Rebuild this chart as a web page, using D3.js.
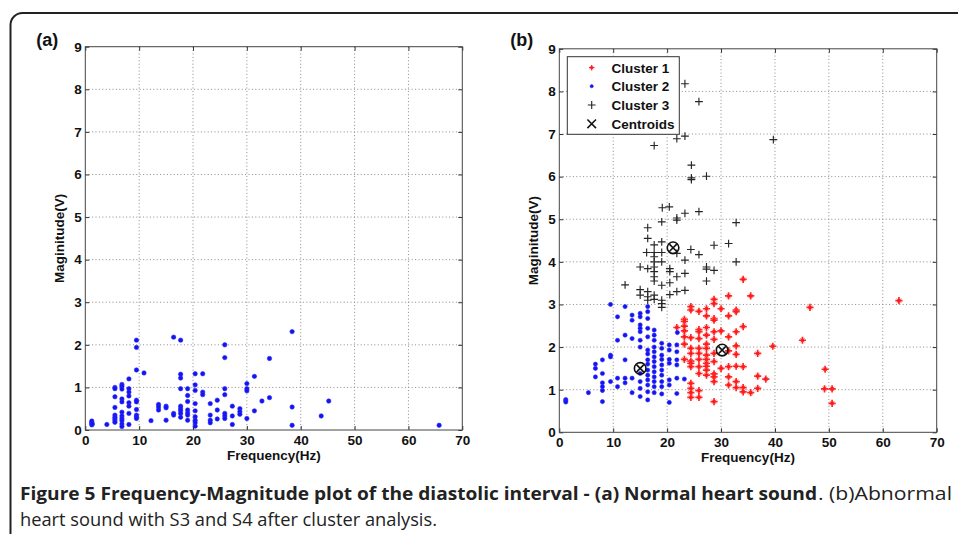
<!DOCTYPE html>
<html>
<head>
<meta charset="utf-8">
<script src="https://cdn.jsdelivr.net/npm/d3@7/dist/d3.min.js"></script>
<style>
  html, body { margin: 0; padding: 0; background: #fff; }
  svg { display: block; }
</style>
</head>
<body>
<script>
// ---------------- DATA ----------------
const xTicks = [0, 10, 20, 30, 40, 50, 60, 70];
const yTicks = [0, 1, 2, 3, 4, 5, 6, 7, 8, 9];
const xLabel = "Frequency(Hz)";
const yLabel = "Maginitude(V)";
const legendLabels = ["Cluster 1", "Cluster 2", "Cluster 3", "Centroids"];
const captionBold = "Figure 5 Frequency-Magnitude plot of the diastolic interval - (a) Normal heart sound";
const captionRest = ". (b)Abnormal";
const captionLine2 = "heart sound with S3 and S4 after cluster analysis.";

// Panel (a): normal heart sound [frequency, magnitude]
const normalPts = [
  [1.2,0.12],[1.2,0.15],[1.2,0.18],[1.2,0.21],[1.3,0.14],
  [4.0,0.13],
  [5.5,1.0],[5.5,0.97],[5.5,0.78],[5.5,0.53],[5.5,0.35],[5.5,0.3],[5.5,0.26],[5.5,0.22],[5.5,0.18],
  [6.8,1.07],[6.8,1.03],[6.8,0.96],[6.8,0.73],[6.8,0.66],[6.8,0.42],[6.8,0.33],[6.8,0.27],[6.8,0.22],[6.8,0.14],[6.8,0.08],
  [8.1,1.2],[8.1,0.97],[8.1,0.89],[8.1,0.8],[8.1,0.64],[8.1,0.56],[8.1,0.39],[8.1,0.13],
  [9.5,2.11],[9.5,1.94],[9.5,1.41],[9.5,0.7],[9.5,0.66],[9.5,0.48],[9.5,0.35],[9.5,0.31],[9.5,0.27],
  [10.9,1.34],[12.2,0.22],
  [13.6,0.6],[13.6,0.54],[13.6,0.47],
  [15.0,0.56],[15.0,0.52],[15.0,0.23],
  [16.4,2.18],[16.4,0.39],[16.4,0.35],
  [17.7,2.11],[17.7,1.31],[17.7,1.22],[17.7,0.97],[17.7,0.56],[17.7,0.5],[17.7,0.45],[17.7,0.39],[17.7,0.3],
  [19.0,0.97],[19.0,0.81],[19.0,0.67],[19.0,0.47],[19.0,0.4],[19.0,0.35],[19.0,0.23],
  [20.4,1.32],[20.4,1.06],[20.4,0.93],[20.4,0.62],[20.4,0.45],[20.4,0.31],[20.4,0.23],[20.4,0.17],[20.4,0.09],
  [21.8,1.32],[21.8,0.89],[21.8,0.83],
  [23.2,0.62],[23.2,0.35],[23.2,0.23],[23.2,0.17],
  [24.5,0.7],[24.5,0.47],[24.5,0.26],
  [25.9,2.0],[25.9,1.7],[25.9,0.97],[25.9,0.83],[25.9,0.39],[25.9,0.33],[25.9,0.27],
  [27.3,0.56],[27.3,0.33],[27.3,0.13],
  [28.7,0.5],[28.7,0.43],[28.7,0.37],
  [30.0,1.09],[30.0,0.97],[30.0,0.92],[30.0,0.27],
  [31.4,1.26],[31.4,0.45],
  [32.8,0.68],
  [34.2,1.68],[34.2,0.76],
  [38.4,2.31],[38.4,0.54],[38.4,0.11],
  [43.8,0.33],[45.2,0.68],[65.7,0.11]
];

// Panel (b): cluster 1 (red)
const cluster1 = [
  [63.0,3.09],[46.5,2.93],[45.1,2.16],[39.6,2.02],[49.3,1.48],[49.2,1.02],[50.6,1.02],[50.6,0.68],
  [34.1,3.59],[31.4,3.2],[35.5,3.2],[28.7,3.12],[28.7,3.02],[27.3,2.9],[30.0,2.9],[32.8,2.87],[32.8,2.83],
  [24.4,2.95],[24.4,2.87],[25.9,2.84],[23.2,2.65],[23.2,2.6],[27.3,2.73],[28.7,2.67],[28.7,2.63],[31.4,2.73],
  [34.1,2.48],[21.8,2.46],[23.2,2.49],[23.2,2.38],[25.9,2.41],[25.9,2.36],[27.3,2.46],[27.3,2.28],[28.7,2.36],
  [30.0,2.38],[32.8,2.36],[31.4,2.24],[23.2,2.24],[24.4,2.22],[25.9,2.2],[28.7,2.18],[23.2,2.07],[24.4,1.97],
  [25.9,1.97],[27.3,2.07],[27.3,1.97],[32.8,2.03],[31.4,1.91],[24.4,1.85],[25.9,1.85],[27.3,1.81],[28.7,1.85],
  [32.8,1.83],[36.8,1.85],[23.2,1.71],[24.4,1.67],[24.4,1.62],[25.9,1.71],[27.3,1.71],[27.3,1.62],[28.7,1.66],
  [24.4,1.54],[25.9,1.54],[27.3,1.55],[27.3,1.46],[30.0,1.5],[31.4,1.54],[32.8,1.55],[34.1,1.54],[25.9,1.38],
  [27.3,1.34],[28.7,1.37],[28.7,1.3],[31.4,1.3],[36.8,1.32],[38.3,1.25],[28.7,1.19],[32.8,1.19],[31.4,1.11],
  [24.4,1.15],[24.4,1.03],[24.4,0.93],[24.4,0.82],[25.9,0.98],[25.9,0.82],[32.8,1.05],[34.1,1.05],[34.1,0.95],
  [35.5,0.93],[36.8,1.03],[28.7,0.72]
];

// Panel (b): cluster 2 (blue)
const cluster2 = [
  [1.2,0.77],[1.2,0.74],[1.2,0.71],[5.4,0.93],
  [6.7,1.6],[6.7,1.5],[6.7,1.3],
  [8.0,1.7],[8.0,1.38],[8.0,1.16],[8.0,1.07],[8.0,0.98],[8.0,0.72],
  [9.5,3.0],[9.5,1.81],[9.5,1.77],[9.5,1.19],
  [10.8,2.71],[10.8,2.16],[10.8,1.27],[10.8,1.07],
  [12.2,2.95],[12.2,2.28],[12.2,1.7],[12.2,1.27],[12.2,1.16],
  [13.5,2.75],[13.5,2.63],[13.5,2.2],[13.5,1.27],[13.5,0.93],
  [15.0,2.79],[15.0,2.71],[15.0,2.52],[15.0,2.44],[15.0,2.36],[15.0,2.16],[15.0,2.0],[15.0,1.38],[15.0,1.19],[15.0,1.03],[15.0,0.84],
  [16.4,2.95],[16.4,2.83],[16.4,2.67],[16.4,2.44],[16.4,2.24],[16.4,1.93],[16.4,1.84],[16.4,1.7],[16.4,1.6],[16.4,1.46],[16.4,1.34],[16.4,1.23],[16.4,1.11],[16.4,0.95],[16.4,0.76],
  [17.6,2.4],[17.6,2.28],[17.6,2.16],[17.6,2.0],[17.6,1.89],[17.6,1.77],[17.6,1.66],[17.6,1.54],[17.6,1.42],[17.6,1.3],[17.6,1.19],[17.6,1.07],[17.6,0.93],
  [19.0,2.09],[19.0,1.97],[19.0,1.81],[19.0,1.71],[19.0,1.58],[19.0,1.46],[19.0,1.34],[19.0,1.19],[19.0,1.07],[19.0,0.9],
  [20.4,2.05],[20.4,1.93],[20.4,1.71],[20.4,1.62],[20.4,1.23],[20.4,1.11],[20.4,0.7],
  [21.8,2.05],[21.8,1.89],[21.8,1.7],[21.8,1.58],[21.8,1.27],[21.8,0.91],[21.9,2.34],
  [23.2,1.25]
];

// Panel (b): cluster 3 (black +)
const cluster3 = [
  [23.3,8.18],[25.9,7.76],[17.6,6.73],[21.8,6.89],[23.3,6.95],[39.7,6.87],
  [24.5,6.27],[24.5,5.97],[24.5,5.93],[27.3,6.01],
  [19.1,5.27],[20.4,5.29],[23.3,5.14],[25.9,5.18],[21.8,5.03],[21.8,4.98],[19.0,4.94],[32.8,4.92],
  [16.4,4.8],[16.4,4.55],[17.6,4.4],[19.0,4.47],
  [16.2,4.22],[17.6,4.22],[19.0,4.22],[17.6,4.12],[17.6,4.0],[17.6,3.88],[19.0,4.0],
  [15.0,3.88],[16.4,3.84],[17.6,3.77],[17.6,3.65],[17.6,3.55],[20.5,3.84],[20.5,3.77],[21.8,3.65],[23.3,3.73],
  [20.5,3.51],[19.0,3.45],[12.2,3.46],
  [24.4,4.29],[25.9,4.17],[23.3,4.04],[21.8,4.2],[28.7,4.39],[31.4,4.43],[32.8,4.0],
  [27.3,3.88],[27.3,3.83],[28.7,3.8],[27.3,3.55],
  [15.0,3.35],[15.0,3.22],[16.4,3.3],[16.4,3.18],[17.6,3.22],[17.6,3.12],[16.4,3.1],
  [19.0,3.1],[19.0,3.02],[19.0,2.93],[20.5,3.23],[21.8,3.3],[23.3,3.33]
];

// centroids
const centroids = [[15.0,1.5],[21.1,4.33],[30.2,1.93]];

// ---------------- LAYOUT ----------------
const W = 958, H = 534;
const svg = d3.select("body").append("svg").attr("width", W).attr("height", H);
const axisFont = "'Liberation Sans', Arial, Helvetica, sans-serif";

// outer frame (rounded top-left)
svg.append("path")
  .attr("d", `M10.5,${H} L10.5,25 A12,12 0 0 1 22.5,13 L${W},13`)
  .attr("fill", "none").attr("stroke", "#222").attr("stroke-width", 2);

function makePanel(box, tag) {
  const x = d3.scaleLinear().domain([0, 70]).range([box.left, box.right]);
  const y = d3.scaleLinear().domain([0, 9]).range([box.bottom, box.top]);
  const g = svg.append("g");

  // grid
  g.append("g").selectAll("line.vg").data(xTicks.slice(1, -1)).join("line")
    .attr("x1", d => x(d)).attr("x2", d => x(d)).attr("y1", box.top).attr("y2", box.bottom)
    .attr("stroke", "#8a8a8a").attr("stroke-width", 1).attr("stroke-dasharray", "1,2.4");
  g.append("g").selectAll("line.hg").data(yTicks.slice(1, -1)).join("line")
    .attr("y1", d => y(d)).attr("y2", d => y(d)).attr("x1", box.left).attr("x2", box.right)
    .attr("stroke", "#8a8a8a").attr("stroke-width", 1).attr("stroke-dasharray", "1,2.4");

  // axes (inward ticks)
  const styleAxis = sel => {
    sel.select(".domain").remove();
    sel.selectAll(".tick line").attr("stroke", "#333");
    sel.selectAll(".tick text").attr("fill", "#111")
      .style("font-family", axisFont).style("font-weight", "bold").style("font-size", "13.5px");
  };
  g.append("g").attr("transform", `translate(0,${box.bottom})`)
    .call(d3.axisBottom(x).tickValues(xTicks).tickSizeInner(-4).tickSizeOuter(0).tickPadding(5).tickFormat(d3.format("d")))
    .call(styleAxis);
  g.append("g").attr("transform", `translate(${box.left},0)`)
    .call(d3.axisLeft(y).tickValues(yTicks).tickSizeInner(-4).tickSizeOuter(0).tickPadding(3.5).tickFormat(d3.format("d")))
    .call(styleAxis);
  g.append("g").attr("transform", `translate(0,${box.top})`)
    .call(d3.axisTop(x).tickValues(xTicks).tickSizeInner(-4).tickSizeOuter(0).tickFormat(""))
    .call(styleAxis);
  g.append("g").attr("transform", `translate(${box.right},0)`)
    .call(d3.axisRight(y).tickValues(yTicks).tickSizeInner(-4).tickSizeOuter(0).tickFormat(""))
    .call(styleAxis);

  // box
  g.append("rect").attr("x", box.left).attr("y", box.top)
    .attr("width", box.right - box.left).attr("height", box.bottom - box.top)
    .attr("fill", "none").attr("stroke", "#444").attr("stroke-width", 1);

  // axis titles
  g.append("text").attr("x", (box.left + box.right) / 2).attr("y", box.bottom + 30)
    .attr("text-anchor", "middle").style("font-family", axisFont).style("font-weight", "bold")
    .style("font-size", "13.5px").attr("fill", "#111").text(xLabel);
  g.append("text")
    .attr("transform", `translate(${box.left - 21},${(box.top + box.bottom) / 2}) rotate(-90)`)
    .attr("text-anchor", "middle").style("font-family", axisFont).style("font-weight", "bold")
    .style("font-size", "13.5px").attr("fill", "#111").text(yLabel);

  // panel tag
  svg.append("text").attr("x", box.left - 49).attr("y", 46)
    .style("font-family", axisFont).style("font-weight", "bold").style("font-size", "18px")
    .attr("fill", "#111").text(tag);

  return { x, y, g };
}

const A = makePanel({ left: 85.3, right: 462.3, top: 46.7, bottom: 430 }, "(a)");
const B = makePanel({ left: 559.3, right: 936.7, top: 48.8, bottom: 432.3 }, "(b)");

// marker helpers
function blueDot(sel, r) {
  sel.attr("r", r).attr("fill", "#1414f0").attr("stroke", "#2a2aff").attr("stroke-width", 0.6);
}
function redStar(g, cx, cy, k = 1) {
  const s = g.append("g").attr("transform", `translate(${cx},${cy}) scale(${k})`);
  s.append("path").attr("d", "M-3.6,0H3.6M0,-3.6V3.6").attr("stroke", "#ff2a2a").attr("stroke-width", 1.7);
  s.append("path").attr("d", "M-2.1,-2.1L2.1,2.1M-2.1,2.1L2.1,-2.1").attr("stroke", "#ff6060").attr("stroke-width", 1);
  s.append("circle").attr("r", 1.8).attr("fill", "#ff1a1a");
}
function blackPlus(g, cx, cy) {
  g.append("path").attr("d", `M${cx - 3.9},${cy}H${cx + 3.9}M${cx},${cy - 3.9}V${cy + 3.9}`)
    .attr("stroke", "#262626").attr("stroke-width", 1.15).attr("fill", "none");
}
function xMark(g, cx, cy, s, w) {
  g.append("path").attr("d", `M${cx - s},${cy - s}L${cx + s},${cy + s}M${cx - s},${cy + s}L${cx + s},${cy - s}`)
    .attr("stroke", "#111").attr("stroke-width", w).attr("fill", "none");
}

// panel (a) points
A.g.append("g").selectAll("circle").data(normalPts).join("circle")
  .attr("cx", d => A.x(d[0])).attr("cy", d => A.y(d[1])).call(blueDot, 2.2);

// panel (b) points
const bg = B.g.append("g");
cluster1.forEach(d => redStar(bg, B.x(d[0]), B.y(d[1])));
bg.append("g").selectAll("circle").data(cluster2).join("circle")
  .attr("cx", d => B.x(d[0])).attr("cy", d => B.y(d[1])).call(blueDot, 2.1);
cluster3.forEach(d => blackPlus(bg, B.x(d[0]), B.y(d[1])));
centroids.forEach(d => {
  const cx = B.x(d[0]), cy = B.y(d[1]);
  bg.append("circle").attr("cx", cx).attr("cy", cy).attr("r", 5.8)
    .attr("fill", "none").attr("stroke", "#111").attr("stroke-width", 1.6);
  xMark(bg, cx, cy, 3.7, 1.6);
});

// legend
const lg = svg.append("g");
lg.append("rect").attr("x", 567.3).attr("y", 56.7).attr("width", 112).attr("height", 77.6)
  .attr("fill", "#fff").attr("stroke", "#333").attr("stroke-width", 1);
const rowY = [67.7, 86.2, 105, 123.8];
const mx = 591.7;
redStar(lg, mx, rowY[0], 0.75);
lg.append("circle").attr("cx", mx).attr("cy", rowY[1]).call(blueDot, 1.6);
blackPlus(lg, mx, rowY[2]);
xMark(lg, mx, rowY[3], 4.3, 1.5);
lg.selectAll("text.leg").data(legendLabels).join("text")
  .attr("x", 611.5).attr("y", (d, i) => rowY[i] + 4.8)
  .style("font-family", axisFont).style("font-weight", "bold").style("font-size", "13.5px")
  .attr("fill", "#111").text(d => d);

// caption
const capFont = "'Open Sans', 'Noto Sans', sans-serif";
svg.append("text").attr("x", 20).attr("y", 499.5)
  .attr("textLength", 797).attr("lengthAdjust", "spacingAndGlyphs")
  .style("font-family", capFont).style("font-weight", "bold").style("font-size", "18px")
  .attr("fill", "#222").text(captionBold);
svg.append("text").attr("x", 818).attr("y", 499.5)
  .attr("textLength", 134).attr("lengthAdjust", "spacingAndGlyphs")
  .style("font-family", capFont).style("font-size", "18px")
  .attr("fill", "#222").text(captionRest);
svg.append("text").attr("x", 20).attr("y", 525.5)
  .attr("textLength", 417).attr("lengthAdjust", "spacingAndGlyphs")
  .style("font-family", capFont).style("font-size", "18px")
  .attr("fill", "#222").text(captionLine2);
</script>
</body>
</html>
